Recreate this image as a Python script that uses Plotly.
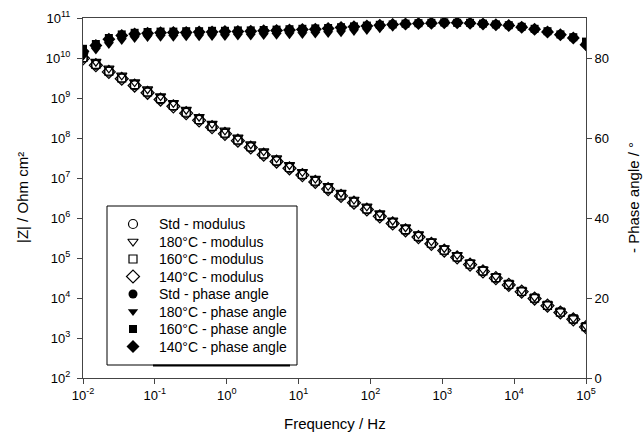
import plotly.graph_objects as go

# frequencies in Hz (about 5.6 points per decade)
freq = [0.01, 0.0151, 0.0229, 0.0346, 0.0523, 0.0791, 0.12, 0.181, 0.273, 0.413,
        0.625, 0.945, 1.43, 2.16, 3.27, 4.94, 7.47, 11.3, 17.1, 25.8,
        39.0, 59.0, 89.2, 135, 204, 308, 466, 705, 1066, 1611,
        2436, 3684, 5570, 8422, 12735, 19256, 29117, 44027, 66572, 100000]

# |Z| / Ohm cm2
mod_std = [1.0e10, 6.76e9, 4.57e9, 3.09e9, 2.09e9, 1.38e9, 9.33e8, 6.31e8, 4.27e8, 2.82e8,
           1.91e8, 1.29e8, 8.71e7, 5.89e7, 3.89e7, 2.63e7, 1.78e7, 1.20e7, 8.13e6, 5.37e6,
           3.63e6, 2.45e6, 1.66e6, 1.12e6, 7.41e5, 5.01e5, 3.39e5, 2.29e5, 1.55e5, 1.05e5,
           6.92e4, 4.68e4, 3.16e4, 2.14e4, 1.45e4, 9.77e3, 6.46e3, 4.37e3, 2.95e3, 1.90e3]
mod_180 = [1.2e10, 8.1e9, 5.5e9, 3.7e9, 2.5e9, 1.66e9, 1.12e9, 7.6e8, 5.1e8, 3.4e8,
           2.3e8, 1.55e8, 1.04e8, 7.0e7, 4.7e7, 3.15e7, 2.12e7, 1.43e7, 9.7e6, 6.4e6,
           4.3e6, 2.9e6, 1.96e6, 1.32e6, 8.7e5, 5.9e5, 3.95e5, 2.65e5, 1.78e5, 1.2e5,
           7.8e4, 5.2e4, 3.5e4, 2.35e4, 1.58e4, 1.06e4, 7.0e3, 4.7e3, 3.15e3, 2.02e3]
mod_160 = [1.03e10, 6.95e9, 4.7e9, 3.18e9, 2.15e9, 1.42e9, 9.6e8, 6.5e8, 4.4e8, 2.9e8,
           1.96e8, 1.33e8, 8.95e7, 6.05e7, 4.0e7, 2.7e7, 1.83e7, 1.23e7, 8.35e6, 5.5e6,
           3.72e6, 2.51e6, 1.7e6, 1.15e6, 7.6e5, 5.13e5, 3.47e5, 2.34e5, 1.58e5, 1.07e5,
           7.05e4, 4.77e4, 3.22e4, 2.18e4, 1.47e4, 9.9e3, 6.55e3, 4.43e3, 2.99e3, 1.92e3]
mod_140 = [9.8e9, 6.6e9, 4.48e9, 3.03e9, 2.05e9, 1.35e9, 9.15e8, 6.2e8, 4.18e8, 2.77e8,
           1.87e8, 1.27e8, 8.55e7, 5.78e7, 3.82e7, 2.58e7, 1.75e7, 1.18e7, 8.0e6, 5.28e6,
           3.57e6, 2.41e6, 1.63e6, 1.1e6, 7.3e5, 4.93e5, 3.34e5, 2.26e5, 1.53e5, 1.04e5,
           6.85e4, 4.63e4, 3.13e4, 2.12e4, 1.44e4, 9.7e3, 6.42e3, 4.34e3, 2.93e3, 1.88e3]

# - phase angle / deg
ph_std = [81.2, 82.9, 84.4, 85.3, 85.8, 86.0, 86.1, 86.2, 86.3, 86.3,
          86.4, 86.5, 86.5, 86.6, 86.7, 86.8, 86.9, 87.0, 87.1, 87.3,
          87.5, 87.7, 87.9, 88.1, 88.3, 88.5, 88.7, 88.8, 88.8, 88.8,
          88.7, 88.6, 88.4, 88.2, 87.8, 87.2, 86.6, 85.8, 85.1, 83.6]
ph_180 = [80.4, 82.0, 83.4, 84.4, 84.9, 85.1, 85.2, 85.2, 85.3, 85.3,
          85.4, 85.4, 85.5, 85.5, 85.6, 85.7, 85.8, 85.9, 86.0, 86.1,
          86.3, 86.6, 86.9, 87.3, 87.7, 88.1, 88.5, 88.7, 88.8, 88.8,
          88.7, 88.6, 88.3, 88.1, 87.7, 87.1, 86.4, 85.6, 84.8, 82.9]
ph_160 = [82.3, 83.5, 85.0, 85.9, 86.3, 86.5, 86.6, 86.6, 86.7, 86.7,
          86.8, 86.8, 86.9, 86.9, 87.0, 87.1, 87.2, 87.3, 87.4, 87.5,
          87.7, 87.9, 88.1, 88.3, 88.4, 88.6, 88.7, 88.8, 88.9, 88.8,
          88.8, 88.6, 88.4, 88.2, 87.8, 87.3, 86.7, 85.9, 85.2, 84.1]
ph_140 = [81.7, 83.1, 84.7, 85.6, 86.0, 86.2, 86.3, 86.4, 86.4, 86.5,
          86.5, 86.6, 86.6, 86.7, 86.8, 86.9, 87.0, 87.1, 87.2, 87.4,
          87.6, 87.8, 88.0, 88.2, 88.4, 88.5, 88.6, 88.7, 88.8, 88.8,
          88.7, 88.5, 88.3, 88.1, 87.7, 87.2, 86.5, 85.8, 85.0, 83.3]

x_ticks = [1e-2, 1e-1, 1, 1e1, 1e2, 1e3, 1e4, 1e5]
x_labels = ['10<sup>-2</sup>', '10<sup>-1</sup>', '10<sup>0</sup>', '10<sup>1</sup>',
            '10<sup>2</sup>', '10<sup>3</sup>', '10<sup>4</sup>', '10<sup>5</sup>']
y_ticks = [10.0 ** k for k in range(2, 12)]
y_labels = ['10<sup>%d</sup>' % k for k in range(2, 12)]

FONT = 'Arial, Liberation Sans, sans-serif'
AX = '#444444'

W, H = 643, 440
# plot area in px
L, R, T, B = 83, 586, 18, 378
def px(x):
    return (x - L) / (R - L)
def py(y):
    return (B - y) / (B - T)

series = [
    ('Std - modulus', freq, mod_std, 'y', 'circle-open', 9),
    ('180°C - modulus', freq, mod_180, 'y', 'triangle-down-open', 9),
    ('160°C - modulus', freq, mod_160, 'y', 'square-open', 8),
    ('140°C - modulus', freq, mod_140, 'y', 'diamond-open', 10),
    ('Std - phase angle', freq, ph_std, 'y2', 'circle', 9),
    ('180°C - phase angle', freq, ph_180, 'y2', 'triangle-down', 9),
    ('160°C - phase angle', freq, ph_160, 'y2', 'square', 8),
    ('140°C - phase angle', freq, ph_140, 'y2', 'diamond', 10),
]

fig = go.Figure()
for name, xs, ys, yax, sym, sz in series:
    open_ = sym.endswith('-open')
    fig.add_trace(go.Scatter(x=xs, y=ys, mode='markers', name=name, yaxis=yax,
                             showlegend=False,
                             marker=dict(symbol=sym, size=sz, color='black',
                                         line=dict(width=1.2 if open_ else 0, color='black'))))

# legend box drawn by hand (SigmaPlot style)
row_y = [224, 241.5, 259, 276.5, 294, 311.5, 329, 346.5]
fig.add_shape(type='rect', xref='paper', yref='paper', x0=px(107), x1=px(297),
              y0=py(365), y1=py(206), line=dict(color='black', width=1),
              fillcolor='white', layer='below')
fig.add_shape(type='line', xref='paper', yref='paper', x0=px(153), x1=px(290),
              y0=py(365.5), y1=py(365.5), line=dict(color='black', width=2), layer='below')
for (name, xs, ys, yax, sym, sz), ry in zip(series, row_y):
    fig.add_trace(go.Scatter(x=[px(133)], y=[py(ry)], xaxis='x2', yaxis='y3',
                             mode='markers', showlegend=False, hoverinfo='skip',
                             marker=dict(symbol=sym, size=sz, color='black',
                                         line=dict(width=1.2 if sym.endswith('-open') else 0,
                                                   color='black'))))
    fig.add_annotation(x=px(157), y=py(ry), xref='paper', yref='paper', text=name,
                       showarrow=False, xanchor='left', yanchor='middle',
                       font=dict(size=14, family=FONT, color='black'))

# axis titles
fig.add_annotation(x=px(335), y=py(423), xref='paper', yref='paper', text='Frequency / Hz',
                   showarrow=False, xanchor='center', yanchor='middle', font=dict(size=15))
fig.add_annotation(x=px(22), y=py(198), xref='paper', yref='paper', text='|Z| / Ohm cm²',
                   showarrow=False, textangle=-90, xanchor='center', yanchor='middle',
                   font=dict(size=15))
fig.add_annotation(x=px(633), y=py(198), xref='paper', yref='paper', text='- Phase angle / °',
                   showarrow=False, textangle=-90, xanchor='center', yanchor='middle',
                   font=dict(size=15))

axis_common = dict(showline=True, linecolor=AX, linewidth=1, ticks='outside', ticklen=5,
                   tickcolor=AX, showgrid=False, zeroline=False, automargin=False,
                   tickfont=dict(size=13))

fig.update_layout(
    width=W, height=H,
    margin=dict(l=L, r=W - R, t=T, b=H - B),
    paper_bgcolor='white', plot_bgcolor='white',
    font=dict(family=FONT, size=13, color='black'),
    showlegend=False,
    xaxis=dict(type='log', range=[-2, 5], tickvals=x_ticks, ticktext=x_labels,
               mirror=True, **axis_common),
    yaxis=dict(type='log', range=[2, 11], tickvals=y_ticks, ticktext=y_labels,
               ticklabelstandoff=4, **axis_common),
    yaxis2=dict(overlaying='y', side='right', range=[0, 90], tickvals=[0, 20, 40, 60, 80],
                **axis_common),
    xaxis2=dict(overlaying='x', range=[0, 1], visible=False),
    yaxis3=dict(overlaying='y', range=[0, 1], visible=False),
)

# drop the default 8px page margin so the 643x440 figure fills the window
fig.write_html("out.html", config={'displayModeBar': False},
               post_script="document.body.style.margin='0';")
